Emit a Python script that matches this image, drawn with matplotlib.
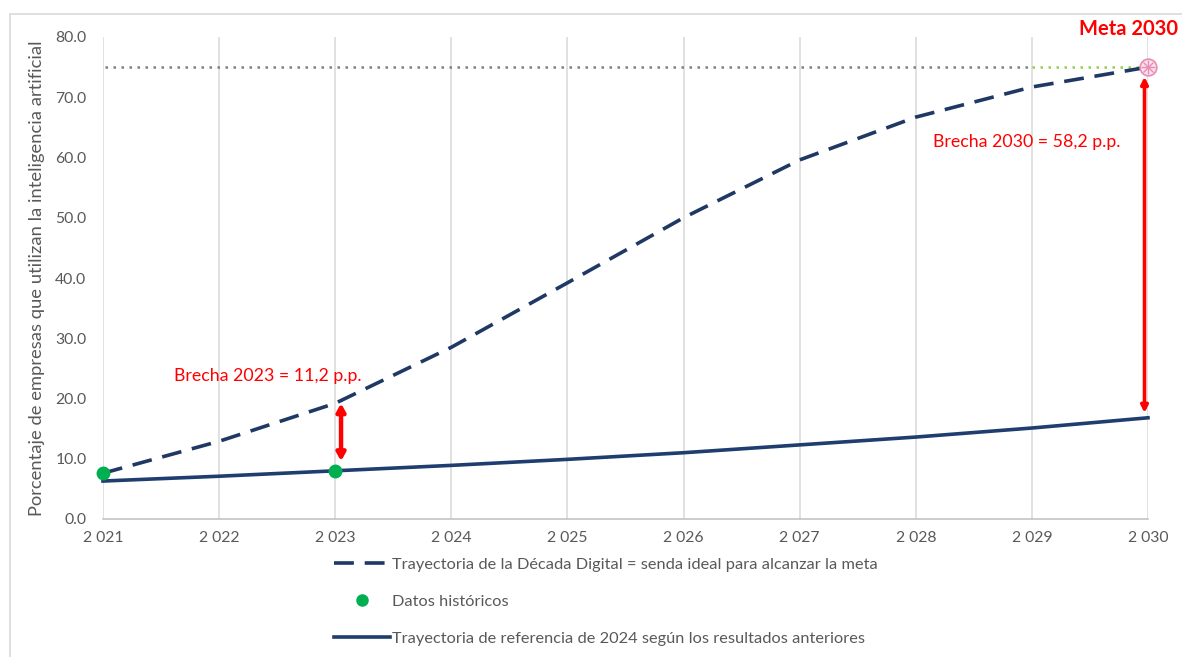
import matplotlib
matplotlib.use("Agg")
import matplotlib.pyplot as plt
from matplotlib.lines import Line2D
from matplotlib.patches import Rectangle

plt.rcParams['font.family'] = ['Lato', 'DejaVu Sans']

years = [2021, 2022, 2023, 2024, 2025, 2026, 2027, 2028, 2029, 2030]
ideal_path = [7.6, 12.9, 19.2, 28.5, 39.2, 50.0, 59.6, 66.7, 71.7, 75.0]
reference_path = [6.3, 7.1, 8.0, 8.9, 9.9, 11.0, 12.3, 13.6, 15.1, 16.8]
hist_years = [2021, 2023]
hist_values = [7.6, 8.0]
target_year = 2030
target_value = 75.0
gap_2023 = 11.2
gap_2030 = 58.2
x_labels = ["2 021", "2 022", "2 023", "2 024", "2 025", "2 026", "2 027", "2 028", "2 029", "2 030"]
y_ticks = [0, 10, 20, 30, 40, 50, 60, 70, 80]

NAVY = "#1f3864"
REF_BLUE = "#1f3d6e"
GREEN = "#00b050"
RED = "#ff0000"
TXT = "#595959"

fig = plt.figure(figsize=(11.82, 6.57), dpi=100)
fig.patches.append(Rectangle((10 / 1182, -0.01), 1.02, 1 - 14 / 657 + 0.01,
                             transform=fig.transFigure, fill=False,
                             edgecolor="#d9d9d9", linewidth=1.2))

ax = fig.add_axes([103 / 1182, 1 - 519 / 657, (1148 - 103) / 1182, (519 - 37) / 657])
ax.set_xlim(2021, 2030)
ax.set_ylim(0, 80)

ax.set_xticks(years)
ax.set_xticklabels(x_labels)
ax.set_yticks(y_ticks)
ax.set_yticklabels([f"{v:.1f}" for v in y_ticks])
ax.tick_params(axis='both', length=0, colors=TXT, labelsize=11.3)
ax.tick_params(axis='x', pad=9)
ax.tick_params(axis='y', pad=12)
ax.grid(axis='x', color="#d9d9d9", linewidth=1.1)
ax.set_axisbelow(True)
for side in ("top", "right", "left"):
    ax.spines[side].set_visible(False)
ax.spines["bottom"].set_color("#bfbfbf")
ax.spines["bottom"].set_linewidth(1.1)

ax.set_ylabel("Porcentaje de empresas que utilizan la inteligencia artificial",
              fontsize=13.2, color=TXT, labelpad=7)

# target level
ax.plot([2021.02, 2029], [target_value, target_value], color="#7f7f7f",
        linestyle=(0, (1, 2.2)), linewidth=1.8)
ax.plot([2029, target_year], [target_value, target_value], color="#92d050",
        linestyle=(0, (1, 2.2)), linewidth=1.8)

# trajectories
ax.plot(years, ideal_path, color=NAVY, linewidth=2.6, linestyle=(0, (5.5, 3)),
        clip_on=False, zorder=3)
ax.plot(years, reference_path, color=REF_BLUE, linewidth=2.6, clip_on=False, zorder=3)
ax.plot(hist_years, hist_values, linestyle="none", marker="o", markersize=9,
        color=GREEN, clip_on=False, zorder=4)

# target marker
ax.plot([target_year], [target_value], marker="o", markersize=12,
        markerfacecolor="#fbe0ec", markeredgecolor="#e58fb6", markeredgewidth=1.2,
        linestyle="none", clip_on=False, zorder=5)
ax.plot([target_year], [target_value], marker="+", markersize=10,
        markeredgecolor="#e58fb6", markeredgewidth=1.0, linestyle="none",
        clip_on=False, zorder=6)
ax.plot([target_year], [target_value], marker="x", markersize=7,
        markeredgecolor="#e58fb6", markeredgewidth=1.0, linestyle="none",
        clip_on=False, zorder=6)

# gap arrows
ideal_2023 = ideal_path[years.index(2023)]
ax.annotate("", xy=(2023.05, ideal_2023 - gap_2023 + 1.6), xytext=(2023.05, ideal_2023),
            arrowprops=dict(arrowstyle="<|-|>,head_length=0.45,head_width=0.25",
                            color=RED, linewidth=3.2, shrinkA=0, shrinkB=0))
ax.annotate("", xy=(2029.97, target_value - gap_2030 + 0.8), xytext=(2029.97, target_value - 1.6),
            arrowprops=dict(arrowstyle="<|-|>,head_length=0.4,head_width=0.2",
                            color=RED, linewidth=2.6, shrinkA=0, shrinkB=0))

ax.text(2022.42, 23.7, f"Brecha 2023 = {gap_2023:.1f} p.p.".replace(".", ",", 1),
        color=RED, fontsize=12.8, ha="center", va="center")
ax.text(2028.96, 62.6, f"Brecha 2030 = {gap_2030:.1f} p.p.".replace(".", ",", 1),
        color=RED, fontsize=12.8, ha="center", va="center")
ax.text(2030.26, 81.3, "Meta 2030", color=RED, fontsize=14.5, fontweight="bold",
        ha="right", va="center", clip_on=False)

handles = [
    Line2D([], [], color=NAVY, linewidth=2.6, linestyle=(0, (5.5, 3))),
    Line2D([], [], color=GREEN, marker="o", markersize=8, linestyle="none"),
    Line2D([], [], color=REF_BLUE, linewidth=2.6),
]
labels = [
    "Trayectoria de la Década Digital = senda ideal para alcanzar la meta",
    "Datos históricos",
    "Trayectoria de referencia de 2024 según los resultados anteriores",
]
leg = fig.legend(handles, labels, loc="upper left",
                 bbox_to_anchor=(326 / 1182, 1 - 549 / 657),
                 frameon=False, fontsize=11.8, handlelength=3.4,
                 handletextpad=0.15, labelspacing=1.38, borderpad=0, numpoints=1)
for t in leg.get_texts():
    t.set_color(TXT)

fig.savefig("out.png", dpi=100)
